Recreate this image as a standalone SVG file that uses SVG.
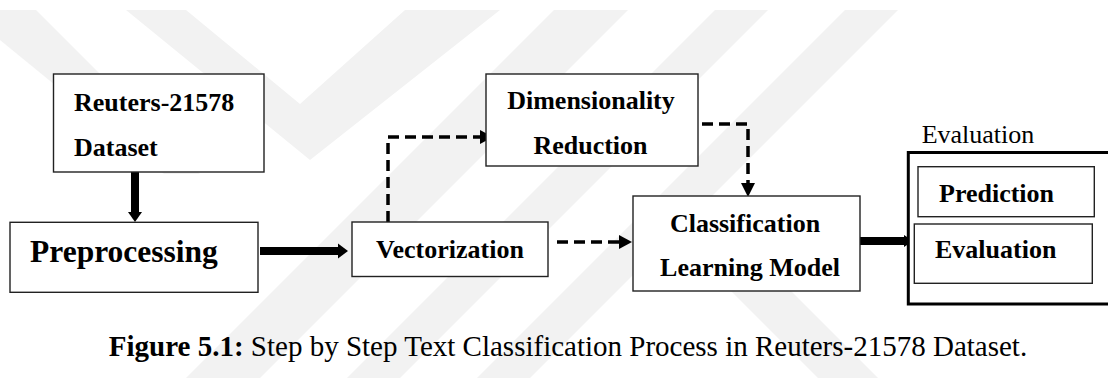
<svg xmlns="http://www.w3.org/2000/svg" width="1108" height="378" viewBox="0 0 1108 378">
<style>
.box{fill:#fff;stroke:#222;stroke-width:1.4}
.lbl{font-family:"Liberation Serif","Times New Roman",serif;font-weight:bold;font-size:26px;fill:#000}
.plain{font-family:"Liberation Serif","Times New Roman",serif;font-size:26px;fill:#000}
.cap{font-family:"Liberation Serif","Times New Roman",serif;font-size:29px;fill:#000}
.thick{stroke:#000;stroke-width:8;fill:none}
.dash{stroke:#000;stroke-width:3.5;fill:none;stroke-dasharray:11 6}
.head{fill:#000}
.wm{fill:#f2f2f2}
</style>
<rect x="0" y="0" width="1108" height="378" fill="#fff"/>
<g id="watermark">
<polygon class="wm" points="0,10 36,10 200,174 164,174 0,40"/>
<polygon class="wm" points="126,10 186,10 300,104 405,10 500,10 310,160"/>
<polygon class="wm" points="554,10 628,10 260,378 186,378"/>
<polygon class="wm" points="715,10 768,10 400,378 347,378"/>
<polygon class="wm" points="845,10 898,10 530,378 477,378"/>
<polygon class="wm" points="640,200 700,200 878,378 818,378"/>
</g>
<g id="connectors">
<line class="thick" x1="135" y1="172" x2="135" y2="213"/>
<polygon class="head" points="128,212 142,212 135,222"/>
<line class="thick" x1="260" y1="251" x2="340" y2="251"/>
<polygon class="head" points="338,243.5 338,258.5 348,251"/>
<polyline class="dash" points="388,222 388,137 482,137"/>
<polygon class="head" points="480,130 480,144 493,137"/>
<line class="dash" x1="557" y1="242" x2="621" y2="242"/>
<polygon class="head" points="619,235 619,249 632,242"/>
<polyline class="dash" points="702,124 748,124 748,185"/>
<polygon class="head" points="741,183 755,183 748,197"/>
<line class="thick" x1="852" y1="241" x2="906" y2="241"/>
<polygon class="head" points="904,235 904,247 913,241"/>
</g>
<g id="node-reuters">
<rect class="box" x="53.5" y="74" width="210.5" height="98"/>
<text class="lbl" x="74" y="110.7">Reuters-21578</text>
<text class="lbl" x="74" y="155.7">Dataset</text>
</g>
<g id="node-preprocessing">
<rect class="box" x="10" y="222.3" width="248" height="70"/>
<text class="lbl" x="30" y="262" style="font-size:31.5px">Preprocessing</text>
</g>
<g id="node-vectorization">
<rect class="box" x="352" y="222" width="196" height="54.5"/>
<text class="lbl" x="450" y="258" text-anchor="middle">Vectorization</text>
</g>
<g id="node-dimensionality">
<rect class="box" x="486" y="74" width="212" height="92"/>
<text class="lbl" x="591" y="109.3" text-anchor="middle">Dimensionality</text>
<text class="lbl" x="590.5" y="154.3" text-anchor="middle">Reduction</text>
</g>
<g id="node-classification">
<rect class="box" x="633" y="196" width="227" height="95"/>
<text class="lbl" x="745" y="231.5" text-anchor="middle">Classification</text>
<text class="lbl" x="750" y="276" text-anchor="middle">Learning Model</text>
</g>
<g id="node-evaluation-group">
<text class="plain" x="921.7" y="143.3">Evaluation</text>
<rect x="908.3" y="152.5" width="220" height="151.5" fill="#fff" stroke="#000" stroke-width="3"/>
<g id="node-prediction">
<rect class="box" x="918" y="166.7" width="176.3" height="50"/>
<text class="lbl" x="939" y="201.7">Prediction</text>
</g>
<g id="node-evaluation">
<rect class="box" x="914.3" y="224" width="178" height="59.3"/>
<text class="lbl" x="935" y="258.3">Evaluation</text>
</g>
</g>
<text class="cap" x="568" y="356" text-anchor="middle"><tspan font-weight="bold">Figure 5.1:</tspan> Step by Step Text Classification Process in Reuters-21578 Dataset.</text>
</svg>
